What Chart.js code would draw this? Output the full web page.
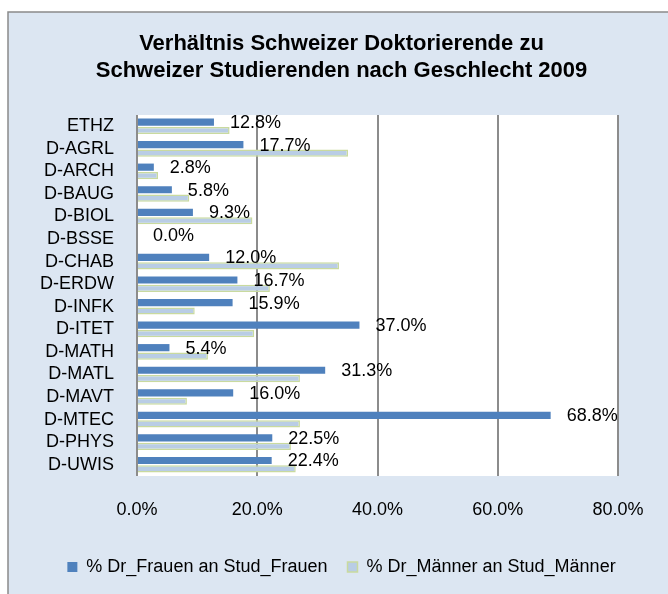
<!DOCTYPE html>
<html>
<head>
<meta charset="utf-8">
<script src="https://cdn.jsdelivr.net/npm/chart.js@4"></script>
<style>
  html, body { margin: 0; padding: 0; background: #fff; }
  #wrap { width: 668px; height: 594px; }
</style>
</head>
<body>
<div id="wrap"><canvas id="chart"></canvas></div>
<script>
    const departments = ["ETHZ", "D-AGRL", "D-ARCH", "D-BAUG", "D-BIOL", "D-BSSE", "D-CHAB", "D-ERDW",
        "D-INFK", "D-ITET", "D-MATH", "D-MATL", "D-MAVT", "D-MTEC", "D-PHYS", "D-UWIS"];

    // % Doktorandinnen an Studentinnen
    const frauen = [12.8, 17.7, 2.8, 5.8, 9.3, 0.0, 12.0, 16.7, 15.9, 37.0, 5.4, 31.3, 16.0, 68.8, 22.5, 22.4];
    // % Doktoranden an Studenten
    const maenner = [15.4, 35.1, 3.5, 8.7, 19.2, 0.0, 33.6, 22.1, 9.6, 19.5, 11.8, 27.1, 8.3, 27.1, 25.6, 26.4];

    const xTicks = [0, 20, 40, 60, 80];

    const FONT = "'Liberation Sans', Arial, sans-serif";

    // light blue frame behind the whole chart, white plot area
    const framePlugin = {
        id: "frame",
        beforeDraw(chart) {
            const { ctx, chartArea } = chart;
            ctx.save();
            ctx.fillStyle = "#ffffff";
            ctx.fillRect(0, 0, chart.width, chart.height);
            ctx.fillStyle = "#dce6f2";
            ctx.fillRect(8, 12, chart.width, chart.height);
            ctx.strokeStyle = "#8b8b8b";
            ctx.lineWidth = 1.5;
            ctx.beginPath();
            ctx.moveTo(8, chart.height + 2);
            ctx.lineTo(8, 12);
            ctx.lineTo(chart.width + 2, 12);
            ctx.stroke();
            ctx.fillStyle = "#ffffff";
            ctx.fillRect(chartArea.left, chartArea.top, chartArea.right - chartArea.left, chartArea.bottom - chartArea.top);
            ctx.restore();
        }
    };

    // value labels next to the Frauen bars
    const valueLabels = {
        id: "valueLabels",
        afterDatasetsDraw(chart) {
            const { ctx } = chart;
            const meta = chart.getDatasetMeta(0);
            ctx.save();
            ctx.font = "18px " + FONT;
            ctx.fillStyle = "#000";
            ctx.textAlign = "left";
            ctx.textBaseline = "middle";
            meta.data.forEach((bar, i) => {
                ctx.fillText(frauen[i].toFixed(1) + "%", bar.x + 16, bar.y + 1);
            });
            ctx.restore();
        }
    };

    new Chart(document.getElementById("chart"), {
        type: "bar",
        data: {
            labels: departments,
            datasets: [
                {
                    label: "% Dr_Frauen an Stud_Frauen",
                    data: frauen,
                    backgroundColor: "#4f81bd",
                    borderColor: "#4f81bd",
                    borderWidth: 0
                },
                {
                    label: "% Dr_Männer an Stud_Männer",
                    data: maenner,
                    backgroundColor: "#b9cde5",
                    borderColor: "#c9da9f",
                    borderWidth: 1.5
                }
            ]
        },
        options: {
            indexAxis: "y",
            responsive: true,
            maintainAspectRatio: false,
            animation: false,
            categoryPercentage: 0.75,
            barPercentage: 0.85,
            layout: { padding: { left: 15, right: 0, top: 12, bottom: 8 } },
            plugins: {
                title: {
                    display: true,
                    text: ["Verhältnis Schweizer Doktorierende zu", "Schweizer Studierenden nach Geschlecht 2009"],
                    color: "#000",
                    font: { family: FONT, size: 22, weight: "bold", lineHeight: 1.227 },
                    padding: { top: 18, bottom: 31 }
                },
                legend: {
                    position: "bottom",
                    labels: {
                        color: "#000",
                        font: { family: FONT, size: 18 },
                        boxWidth: 10,
                        boxHeight: 10,
                        padding: 20
                    }
                },
                tooltip: { enabled: false }
            },
            scales: {
                x: {
                    min: 0,
                    max: 80,
                    afterBuildTicks: (scale) => { scale.ticks = xTicks.map(v => ({ value: v })); },
                    afterFit: (scale) => { scale.height = 62; scale.paddingRight = 50; },
                    grid: { color: "#8c8c8c", lineWidth: 2, drawTicks: false },
                    border: { display: false },
                    ticks: {
                        color: "#000",
                        font: { family: FONT, size: 18 },
                        padding: 23,
                        callback: (v) => Number(v).toFixed(1) + "%"
                    }
                },
                y: {
                    afterFit: (scale) => { scale.width = 122; },
                    grid: { display: false, drawTicks: false },
                    border: { display: false },
                    ticks: {
                        color: "#000",
                        font: { family: FONT, size: 18 },
                        padding: 23,
                        autoSkip: false
                    }
                }
            }
        },
        plugins: [framePlugin, valueLabels]
    });
</script>
</body>
</html>
